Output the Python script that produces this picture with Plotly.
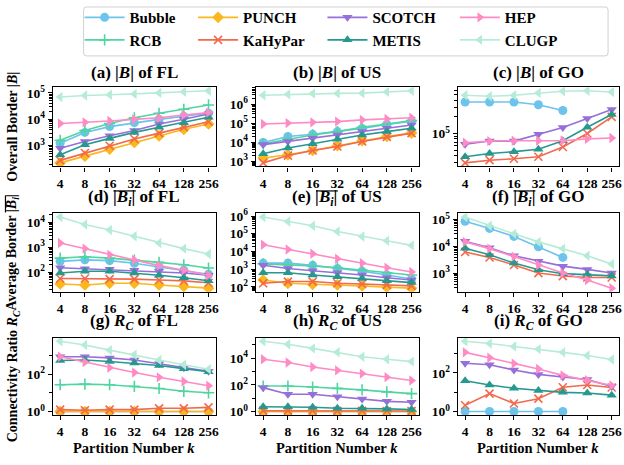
import math
import plotly.graph_objects as go

W, H = 624, 465

# ---------------- data ----------------
k_values = [4, 8, 16, 32, 64, 128, 256]
k_labels = ["4", "8", "16", "32", "64", "128", "256"]
methods = ["Bubble", "RCB", "PUNCH", "KaHyPar", "SCOTCH", "METIS", "HEP", "CLUGP"]
NA = None

border_FL = {
    "Bubble": [1250, 3200, 5300, 7500, 10000, 13000, 17000],
    "RCB": [1600, 3800, 7000, 11500, 17000, 24000, 35000],
    "PUNCH": [225, 400, 750, 1330, 2350, 4200, 6700],
    "KaHyPar": [280, 530, 1000, 1800, 3000, 5000, 8100],
    "SCOTCH": [800, 1450, 2400, 3800, 6700, 10000, 16000],
    "METIS": [460, 1100, 1900, 3200, 5000, 7500, 12000],
    "HEP": [7000, 7700, 8600, 10000, 11500, 14500, 18000],
    "CLUGP": [70000, 80000, 85000, 90000, 100000, 110000, 120000],
}
border_US = {
    "Bubble": [9700, 20000, 26000, 36000, 53000, 85000, 125000],
    "RCB": [8300, 14500, 24000, 36000, 60000, 90000, 135000],
    "PUNCH": [1500, 2200, 3700, 6600, 12000, 20000, 30000],
    "KaHyPar": [830, 2000, 3700, 6000, 11000, 19000, 30000],
    "SCOTCH": [7500, 11000, 16000, 24000, 36000, 54000, 80000],
    "METIS": [2500, 5000, 8300, 14500, 24000, 36000, 54000],
    "HEP": [90000, 100000, 110000, 120000, 147000, 165000, 190000],
    "CLUGP": [2.9e6, 3.2e6, 3.5e6, 3.6e6, 3.7e6, 4.3e6, 4.9e6],
}
border_GO = {
    "Bubble": [3.7e5, 3.7e5, 3.7e5, 3.3e5, 2.6e5, NA, NA],
    "RCB": [NA] * 7,
    "PUNCH": [NA] * 7,
    "KaHyPar": [2.95e4, 3.3e4, 3.5e4, 3.8e4, 5.7e4, 1.0e5, 2.0e5],
    "SCOTCH": [6.4e4, 7.3e4, 7.3e4, 9.7e4, 1.28e5, 1.87e5, 2.7e5],
    "METIS": [3.8e4, 4.35e4, 4.7e4, 5.2e4, 7.4e4, 1.3e5, 2.2e5],
    "HEP": [6.8e4, 7.3e4, 7.4e4, 7.4e4, 7.4e4, 8.0e4, 8.3e4],
    "CLUGP": [4.9e5, 4.7e5, 4.9e5, 5.4e5, 5.8e5, 5.9e5, 5.6e5],
}
avg_FL = {
    "Bubble": [275, 316, 293, 230, 162, 120, 83],
    "RCB": [370, 420, 370, 310, 250, 200, 148],
    "PUNCH": [34, 31, 36, 36, 31, 27, 23],
    "KaHyPar": [56, 56, 53, 53, 49, 45, 38],
    "SCOTCH": [152, 138, 131, 120, 110, 94, 76],
    "METIS": [93, 110, 110, 93, 76, 60, 46],
    "HEP": [1500, 890, 500, 310, 185, 120, 76],
    "CLUGP": [16600, 8300, 5000, 2800, 1500, 890, 540],
}
avg_US = {
    "Bubble": [2200, 2200, 1650, 1100, 780, 470, 280],
    "RCB": [2000, 1800, 1500, 1200, 880, 630, 470],
    "PUNCH": [245, 160, 140, 130, 115, 96, 85],
    "KaHyPar": [160, 200, 200, 160, 147, 130, 115],
    "SCOTCH": [1650, 1100, 820, 630, 470, 330, 245],
    "METIS": [630, 630, 470, 375, 300, 225, 175],
    "HEP": [24000, 13000, 7400, 3900, 2200, 1200, 700],
    "CLUGP": [8.8e5, 4.9e5, 2.8e5, 1.35e5, 7.0e4, 4.0e4, 2.2e4],
}
avg_GO = {
    "Bubble": [8.7e4, 4.7e4, 2.36e4, 9.7e3, 3.9e3, NA, NA],
    "RCB": [NA] * 7,
    "PUNCH": [NA] * 7,
    "KaHyPar": [6.2e3, 3.9e3, 2.05e3, 1.02e3, 790, 700, 700],
    "SCOTCH": [1.56e4, 8.9e3, 4.5e3, 2.8e3, 1.85e3, 1.4e3, 1.02e3],
    "METIS": [8.5e3, 4.9e3, 2.4e3, 1.35e3, 970, 900, 800],
    "HEP": [1.48e4, 8.3e3, 4.2e3, 2.05e3, 1.02e3, 560, 280],
    "CLUGP": [1.25e5, 5.9e4, 2.95e4, 1.48e4, 8.3e3, 4.5e3, 2.2e3],
}
rc_FL = {
    "Bubble": [1, 1, 1, 1, 1, 1, 1],
    "RCB": [27, 29, 27, 22, 17, 12, 10],
    "PUNCH": [1, 1, 1, 1, 1, 1, 1],
    "KaHyPar": [1.26, 1.17, 1.26, 1.26, 1.48, 1.48, 1.66],
    "SCOTCH": [850, 850, 730, 570, 355, 220, 143],
    "METIS": [530, 570, 470, 385, 290, 195, 132],
    "HEP": [850, 435, 220, 122, 67, 40, 24],
    "CLUGP": [5700, 3600, 1900, 1080, 570, 316, 180],
}
rc_US = {
    "Bubble": [1, 1, 1, 1, 1, 1, 1],
    "RCB": [82, 82, 69, 55, 42, 30, 22],
    "PUNCH": [1, 1, 1, 1, 1, 1, 1],
    "KaHyPar": [1.15, 1.15, 1.15, 1.12, 1.12, 1.1, 1.1],
    "SCOTCH": [62, 20, 20, 12.7, 8.5, 5.8, 4.9],
    "METIS": [2.3, 2.3, 2.1, 1.76, 1.76, 1.57, 1.4],
    "HEP": [8500, 4800, 2200, 1230, 700, 380, 215],
    "CLUGP": [1.9e5, 1.14e5, 5.5e4, 2.8e4, 1.3e4, 8.5e3, 5.6e3],
}
rc_GO = {
    "Bubble": [1, 1, 1, 1, 1, NA, NA],
    "RCB": [NA] * 7,
    "PUNCH": [NA] * 7,
    "KaHyPar": [2.1, 8.4, 2.6, 4.6, 18, 23.5, 17.4],
    "SCOTCH": [314, 260, 140, 83, 61, 45, 19.5],
    "METIS": [39, 23.5, 16, 12.3, 9.8, 9.1, 7],
    "HEP": [1140, 600, 300, 158, 74, 42, 22],
    "CLUGP": [4300, 3300, 2300, 1670, 1140, 780, 490],
}

panel_titles = [
    "(a) |<i>B</i>| of FL", "(b) |<i>B</i>| of US", "(c) |<i>B</i>| of GO",
    "(d) |<i>B<sub>i</sub></i>| of FL", "(e) |<i>B<sub>i</sub></i>| of US", "(f) |<i>B<sub>i</sub></i>| of GO",
    "(g) <i>R<sub>C</sub></i> of FL", "(h) <i>R<sub>C</sub></i> of US", "(i) <i>R<sub>C</sub></i> of GO",
]
row_titles = [
    "Overall Border |<i>B</i>|",
    "Average Border |<i>B<sub>i</sub></i>|",
    "Connectivity Ratio <i>R<sub>C</sub></i>",
]
x_title = "Partition Number <i>k</i>"

panels = [border_FL, border_US, border_GO,
          avg_FL, avg_US, avg_GO,
          rc_FL, rc_US, rc_GO]
decade_stride = [1, 1, 1, 1, 1, 1, 2, 2, 2]

# ---------------- style ----------------
colors = {
    "Bubble": "#6cc3ec", "RCB": "#4fd6a0", "PUNCH": "#fbb71c", "KaHyPar": "#f2694c",
    "SCOTCH": "#9670d8", "METIS": "#26998f", "HEP": "#ff8ac4", "CLUGP": "#b6ecd6",
}
symbols = {
    "Bubble": "circle", "RCB": "cross-thin-open", "PUNCH": "diamond", "KaHyPar": "x-thin-open",
    "SCOTCH": "triangle-down", "METIS": "triangle-up", "HEP": "triangle-right", "CLUGP": "triangle-left",
}
legend_of = {
    "Bubble": "legend", "RCB": "legend", "PUNCH": "legend2", "KaHyPar": "legend2",
    "SCOTCH": "legend3", "METIS": "legend3", "HEP": "legend4", "CLUGP": "legend4",
}

FONT = "Liberation Serif"
col_px = [(53, 217), (257, 421), (460, 622)]
row_px = [(83, 164), (212, 292), (339, 418)]
# overline extents (px offsets from column centre) over "|B_i|" in titles (d)-(f)
overline_offsets = [(-21, 1.5), (-21.5, 0.5), (-25, -3)]


def px_x(v):
    return v / W


def px_y(v):
    return 1 - v / H


fig = go.Figure()
layout = {}
annotations = []
shapes = []

for idx, data in enumerate(panels):
    r, c = divmod(idx, 3)
    n = idx + 1
    xa = "x" if n == 1 else f"x{n}"
    ya = "y" if n == 1 else f"y{n}"
    for m in methods:
        thin = "thin" in symbols[m]
        fig.add_trace(go.Scatter(
            x=k_values, y=data[m], xaxis=xa, yaxis=ya, name=m,
            mode="lines+markers",
            line=dict(color=colors[m], width=1.6),
            marker=dict(symbol=symbols[m], size=8 if thin else 9,
                        color=colors[m], line=dict(color=colors[m], width=1.6 if thin else 0)),
            showlegend=(idx == 0), legend=legend_of[m],
            connectgaps=False, hoverinfo="skip",
        ))
    vals = [math.log10(v) for m in methods for v in data[m] if v is not None]
    lo, hi = min(vals), max(vals)
    pad = 0.05 * (hi - lo)
    lo, hi = lo - pad, hi + pad
    st = decade_stride[idx]
    exps = [e for e in range(math.floor(lo), math.ceil(hi) + 1) if lo <= e <= hi]
    major_exps = [e for e in exps if e % st == 0]
    majors = [10.0 ** e for e in major_exps]
    majors_txt = [f"10<sup>{e}</sup>" for e in major_exps]
    minors = []
    if st == 1:
        for e in range(math.floor(lo) - 1, math.ceil(hi) + 1):
            for mm in range(2, 10):
                v = mm * 10.0 ** e
                if lo <= math.log10(v) <= hi:
                    minors.append(v)
    else:
        minors = [10.0 ** e for e in exps if e % st != 0]
    x0, x1 = col_px[c]
    y0, y1 = row_px[r]
    axis_common = dict(showline=True, mirror=True, linecolor="black", linewidth=1.3,
                       showgrid=False, zeroline=False, ticks="outside", ticklen=4,
                       tickwidth=1.2, tickcolor="black",
                       tickfont=dict(family=FONT, size=13.5, color="black", weight="bold"))
    layout["xaxis" if n == 1 else f"xaxis{n}"] = dict(
        domain=[px_x(x0), px_x(x1)], anchor=ya, type="log",
        range=[math.log10(2 ** 1.7), math.log10(2 ** 8.3)],
        tickmode="array", tickvals=k_values, ticktext=k_labels, **axis_common)
    layout["yaxis" if n == 1 else f"yaxis{n}"] = dict(
        domain=[px_y(y1), px_y(y0)], anchor=xa, type="log", range=[lo, hi],
        tickmode="array", tickvals=majors, ticktext=majors_txt,
        minor=dict(tickmode="array", tickvals=minors, ticks="outside", ticklen=2.2,
                   tickwidth=1, tickcolor="black", showgrid=False),
        **axis_common)
    cx = (x0 + x1) / 2
    annotations.append(dict(
        text=panel_titles[idx], x=px_x(cx), y=px_y(y0 - 3),
        xref="paper", yref="paper", xanchor="center", yanchor="bottom", showarrow=False,
        font=dict(family=FONT, size=17, color="black", weight="bold")))
    if r == 1:
        a, b = overline_offsets[c]
        shapes.append(dict(type="line", xref="paper", yref="paper",
                           x0=px_x(cx + a), x1=px_x(cx + b), y0=px_y(y0 - 23), y1=px_y(y0 - 23),
                           line=dict(color="black", width=1.2)))

for r in range(3):
    y0, y1 = row_px[r]
    annotations.append(dict(
        text=row_titles[r], x=px_x(13), y=px_y((y0 + y1) / 2), textangle=-90,
        xref="paper", yref="paper", xanchor="center", yanchor="middle", showarrow=False,
        font=dict(family=FONT, size=14, color="black", weight="bold")))
# overline on the rotated "|B_i|" of the second row label
shapes.append(dict(type="line", xref="paper", yref="paper",
                   x0=px_x(5.5), x1=px_x(5.5), y0=px_y(193.5), y1=px_y(211),
                   line=dict(color="black", width=1.2)))
for c in range(3):
    x0, x1 = col_px[c]
    annotations.append(dict(
        text=x_title, x=px_x((x0 + x1) / 2), y=px_y(452), xref="paper", yref="paper",
        xanchor="center", yanchor="middle", showarrow=False,
        font=dict(family=FONT, size=14.5, color="black", weight="bold")))

# legend frame (rounded)
lx0, lx1, ly0, ly1, rad = 84, 611, 1, 51, 3
path = (f"M {px_x(lx0 + rad)},{px_y(ly0)} L {px_x(lx1 - rad)},{px_y(ly0)} "
        f"Q {px_x(lx1)},{px_y(ly0)} {px_x(lx1)},{px_y(ly0 + rad)} "
        f"L {px_x(lx1)},{px_y(ly1 - rad)} Q {px_x(lx1)},{px_y(ly1)} {px_x(lx1 - rad)},{px_y(ly1)} "
        f"L {px_x(lx0 + rad)},{px_y(ly1)} Q {px_x(lx0)},{px_y(ly1)} {px_x(lx0)},{px_y(ly1 - rad)} "
        f"L {px_x(lx0)},{px_y(ly0 + rad)} Q {px_x(lx0)},{px_y(ly0)} {px_x(lx0 + rad)},{px_y(ly0)} Z")
shapes.append(dict(type="path", path=path, xref="paper", yref="paper",
                   line=dict(color="#d0d0d0", width=1), fillcolor="white", layer="below"))

legend_cols_px = [88, 202, 332, 465]
legend_common = dict(orientation="v", xanchor="left", yanchor="top", y=px_y(-5),
                     bgcolor="rgba(0,0,0,0)", borderwidth=0, tracegroupgap=0,
                     itemwidth=40,
                     font=dict(family=FONT, size=15, color="black", weight="bold"))
for i, name in enumerate(["legend", "legend2", "legend3", "legend4"]):
    layout[name] = dict(x=px_x(legend_cols_px[i] - 8), **legend_common)

fig.update_layout(
    width=W, height=H, margin=dict(l=0, r=0, t=0, b=0),
    paper_bgcolor="white", plot_bgcolor="white", hovermode=False,
    font=dict(family=FONT, size=13, color="black", weight="bold"),
    annotations=annotations, shapes=shapes, **layout)

fig.write_html(
    "out.html",
    config={"displayModeBar": False},
    post_script="document.body.style.margin='0';document.body.style.padding='0';"
                "document.body.style.overflow='hidden';",
)
